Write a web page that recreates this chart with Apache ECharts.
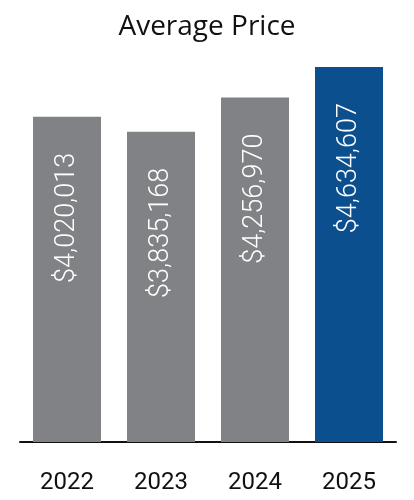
<!DOCTYPE html>
<html>
<head>
<meta charset="utf-8">
<script src="https://cdn.jsdelivr.net/npm/echarts@6/dist/echarts.min.js"></script>
<style>
html,body{margin:0;padding:0;background:#fff;}
#chart{width:414px;height:500px;}
</style>
</head>
<body>
<div id="chart"></div>
<script>
var years = ['2022', '2023', '2024', '2025'];
var avgPrices = [4020013, 3835168, 4256970, 4634607];
var highlightYear = '2025';

function fmtMoney(v) {
  var s = String(Math.round(v));
  return '$' + s.replace(/\B(?=(\d{3})+(?!\d))/g, ',');
}

var chart = echarts.init(document.getElementById('chart'), null, {renderer: 'canvas'});
chart.setOption({
  animation: false,
  title: {
    text: 'Average Price',
    left: 'center',
    top: 8,
    textStyle: {fontFamily: 'Open Sans', fontSize: 28, fontWeight: 'normal', color: '#111'}
  },
  grid: {left: 20, right: 18, top: 37.5, bottom: 58},
  xAxis: {
    type: 'category',
    data: years,
    axisLine: {show: true, lineStyle: {color: '#111', width: 2}},
    axisTick: {show: false},
    axisLabel: {fontFamily: 'Roboto', fontSize: 24, color: '#111', margin: 29}
  },
  yAxis: {
    type: 'value',
    min: 0,
    max: 5000000,
    show: false,
    splitLine: {show: false}
  },
  series: [{
    type: 'bar',
    data: avgPrices,
    barWidth: 68,
    itemStyle: {
      color: function (p) { return years[p.dataIndex] === highlightYear ? '#0C4F8F' : '#818285'; }
    },
    label: {
      show: true,
      position: 'insideTop',
      distance: 36,
      rotate: 90,
      align: 'right',
      verticalAlign: 'middle',
      color: '#fff',
      fontFamily: 'Roboto',
      fontWeight: 300,
      fontSize: 27,
      formatter: function (p) { return fmtMoney(p.value); }
    }
  }]
});
</script>
</body>
</html>
